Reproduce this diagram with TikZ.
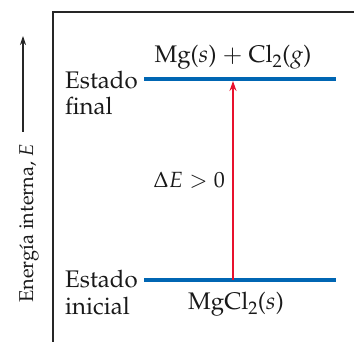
\documentclass[tikz,border=0pt]{standalone}
\usepackage[T1]{fontenc}
\usepackage{mathpazo}
\usetikzlibrary{arrows.meta}
\definecolor{lvlblue}{RGB}{0,102,179}
\definecolor{arrred}{RGB}{232,17,45}
\begin{document}
\begin{tikzpicture}[x=1pt,y=-1pt,
  txt/.style={font=\fontsize{24}{26}\selectfont, inner sep=0pt, text=black!90},
  frameline/.style={line width=1.2pt, black!85},
  level/.style={line width=3.2pt, lvlblue},
  jump/.style={line width=2pt, arrred, -{Stealth[length=10pt,width=7pt]}},
  axis/.style={line width=1.1pt, black!85, -{Stealth[length=9pt,width=6pt]}}]
\useasboundingbox (0,0) rectangle (354,342);
\coordinate (fr1) at (354,12);
\coordinate (fr2) at (53,12);
\coordinate (fr3) at (53,342);
\draw[frameline] (fr1) -- (fr2) -- (fr3);
\coordinate (fL) at (144,79);
\coordinate (fR) at (336,79);
\coordinate (iL) at (144,280);
\coordinate (iR) at (336,280);
\draw[level] (fL) -- (fR);
\draw[level] (iL) -- (iR);
\coordinate (jb) at (233,280);
\coordinate (jt) at (233,81);
\draw[jump] (jb) -- (jt);
\coordinate (a0) at (23,132);
\coordinate (a1) at (23,36);
\draw[axis] (a0) -- (a1);
\node[txt, anchor=base west] (ef1) at (65,89) {Estado};
\node[txt, anchor=base west] (ef2) at (65,115) {final};
\node[txt, anchor=base west] (ei1) at (65,288) {Estado};
\node[txt, anchor=base west] (ei2) at (65,315) {inicial};
\node[txt, anchor=base] (top) at (233,63) {Mg($s$) $+$ Cl$_2$($g$)};
\node[txt, anchor=base] (bot) at (236,310) {MgCl$_2$($s$)};
\node[txt, font=\fontsize{22}{26}\selectfont, anchor=base east] (de) at (225,188) {$\Delta E > 0$};
\node[txt, font=\fontsize{20}{24}\selectfont, anchor=base west, rotate=90] (ylab) at (33,303) {Energía interna, $E$};
\end{tikzpicture}
\end{document}
